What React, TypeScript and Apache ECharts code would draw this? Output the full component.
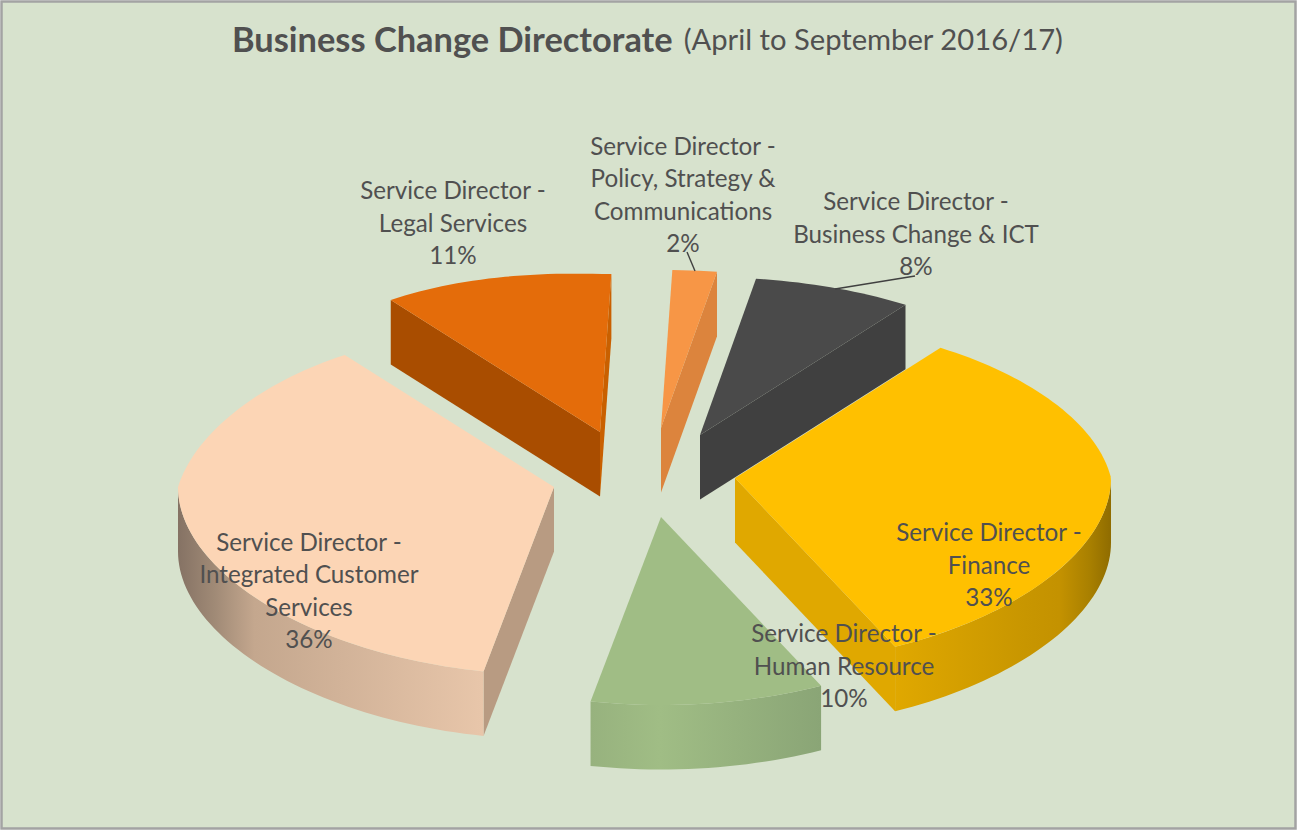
import React, { useEffect, useRef } from "react";
import * as echarts from "echarts";

const categories = [
  "Service Director -\nFinance",
  "Service Director -\nHuman Resource",
  "Service Director -\nIntegrated Customer\nServices",
  "Service Director -\nLegal Services",
  "Service Director -\nPolicy, Strategy &\nCommunications",
  "Service Director -\nBusiness Change & ICT",
];
const values = [33.0, 10.0, 36.49, 11.0, 2.0, 7.51];

// Pie layout
const START_ANGLE = 36;
const CENTER = [650, 470];
const RADIUS_X = 376;
const RADIUS_Y = 173;
const TILT = 15; // perspective: the front of the ellipse is deeper than the back
const BACK_SQUEEZE_LEFT = 0.15;
const BACK_SQUEEZE_RIGHT = 0.113;
const BACK_LEFT_LIFT = 10;
const DEPTH = 64.5;
const explodeOffsets = [[85, 8], [11, 47], [-96, 17], [-50, -38], [11, -42], [50, -35]];
const paintOrder = [3, 5, 4, 2, 4, 5]; // higher paints later

const FONT = "Lato, 'Open Sans', sans-serif";
const LABEL_SIZE = 24.2;
const LINE_HEIGHT = 32.6;
const TEXT_COLOR = "#505050";
const labelCenters = [[989, 564], [844, 665], [309, 590], [453, 222], [683, 194], [916, 233]];
const leaders = [[[687, 252], [695, 271]], [[915, 276], [835, 289]]];

const topColors = ["#FFC000", "#A0BD85", "#FCD5B5", "#E46C0A", "#F79646", "#4A4A4A"];
const startWall = ["#E0A800", "#8FA977", "#B89B82", "#A94D00", "#DC843D", "#404040"];
const endWall = ["#E0A800", "#8FA977", "#B89B82", "#C96000", "#DC843D", "#404040"];
const arcStops: [number, string][][] = [
  [[0, "#E0A800"], [0.6, "#C89600"], [0.76, "#C49200"], [0.9, "#A98000"], [1, "#8F6C00"]],
  [[0, "#97B27E"], [0.3, "#A0BD85"], [1, "#8AA576"]],
  [[0, "#857264"], [0.12, "#A08A76"], [0.25, "#C4A78E"], [1, "#E8C6AA"]],
  [[0, "#A94D00"], [1, "#A94D00"]],
  [[0, "#DC843D"], [1, "#DC843D"]],
  [[0, "#404040"], [1, "#404040"]],
];

const rad = (d: number) => (d * Math.PI) / 180;
const total = values.reduce((a, b) => a + b, 0);

function rim(deg: number, apex: number[]) {
  const v = -Math.cos(rad(deg));
  const s = Math.sin(rad(deg));
  const k = s < 0 ? BACK_SQUEEZE_LEFT : BACK_SQUEEZE_RIGHT;
  const squeeze = 1 + k * Math.min(0, v) * Math.sqrt(Math.abs(s));
  const lift = s < 0 && v < 0 ? BACK_LEFT_LIFT * Math.abs(s * v) : 0;
  return [apex[0] + RADIUS_X * s * squeeze, apex[1] + RADIUS_Y * v + TILT * v * v - lift];
}
function arcPoints(a: number, b: number, apex: number[]) {
  const n = Math.max(2, Math.ceil((b - a) / 1.5));
  const out: number[][] = [];
  for (let i = 0; i <= n; i++) out.push(rim(a + ((b - a) * i) / n, apex));
  return out;
}
const drop = (p: number[]) => [p[0], p[1] + DEPTH];

function renderSlice(params: any) {
  const i = params.dataIndex;
  let a = START_ANGLE;
  for (let k = 0; k < i; k++) a += (values[k] / total) * 360;
  const b = a + (values[i] / total) * 360;
  const apex = [CENTER[0] + explodeOffsets[i][0], CENTER[1] + explodeOffsets[i][1]];
  const pStart = rim(a, apex);
  const pEnd = rim(b, apex);
  const z = paintOrder[i] * 10;
  const children: any[] = [];
  const face = (points: number[][], fill: any, z2: number) =>
    children.push({ type: "polygon", shape: { points }, style: { fill, stroke: "none" }, z2 });

  // outer wall: only where the rim runs along the front half
  for (const off of [0, 360]) {
    const lo = Math.max(a, 90 + off);
    const hi = Math.min(b, 270 + off);
    if (hi > lo) {
      const arc = arcPoints(lo, hi, apex);
      const gradient = new echarts.graphic.LinearGradient(
        0, 0, 1, 0,
        arcStops[i].map(([offset, color]) => ({ offset, color })),
      );
      face([...arc, ...arc.map(drop).reverse()], gradient, z + 2);
    }
  }
  if (pStart[0] < apex[0]) face([apex, pStart, drop(pStart), drop(apex)], startWall[i], z + 1);
  if (pEnd[0] > apex[0]) face([apex, pEnd, drop(pEnd), drop(apex)], endWall[i], z + 1);
  face([apex, ...arcPoints(a, b, apex)], topColors[i], z + 3);

  children.push({
    type: "text",
    x: labelCenters[i][0],
    y: labelCenters[i][1],
    z2: 200,
    style: {
      text: `${categories[i]}\n${Math.round(values[i])}%`,
      fill: TEXT_COLOR,
      fontFamily: FONT,
      fontSize: LABEL_SIZE,
      lineHeight: LINE_HEIGHT,
      align: "center",
      verticalAlign: "middle",
    },
  });
  return { type: "group", children };
}

export default function App() {
  const ref = useRef<HTMLDivElement>(null);
  useEffect(() => {
    document.body.style.margin = "0";
    const chart = echarts.init(ref.current!, undefined, { renderer: "svg" });
    chart.setOption({
      animation: false,
      title: {
        text: "{a|Business Change Directorate}  {b|(April to September 2016/17)}",
        left: 227,
        top: 13,
        textStyle: {
          fontWeight: "normal",
          fontSize: 20,
          rich: {
            a: { fontFamily: FONT, fontSize: 34.4, fontWeight: "bold", color: "#505050", lineHeight: 40 },
            b: { fontFamily: FONT, fontSize: 29.2, fontWeight: "normal", color: "#505050", lineHeight: 40 },
          },
        },
      },
      graphic: [
        {
          type: "rect",
          z: -10,
          silent: true,
          shape: { x: 1.5, y: 1.5, width: 1294, height: 827 },
          style: { fill: "#D7E2CD", stroke: "#A3A3A3", lineWidth: 2.5 },
        },
        ...leaders.map((l) => ({
          type: "line",
          z: 50,
          silent: true,
          shape: { x1: l[0][0], y1: l[0][1], x2: l[1][0], y2: l[1][1] },
          style: { stroke: "#404040", lineWidth: 1.4 },
        })),
      ],
      series: [
        {
          type: "custom",
          coordinateSystem: "none",
          silent: true,
          renderItem: renderSlice,
          data: values.map((v, i) => ({ name: categories[i], value: [v] })),
        },
      ],
    });
    return () => chart.dispose();
  }, []);
  return <div ref={ref} style={{ width: 1297, height: 830 }} />;
}
